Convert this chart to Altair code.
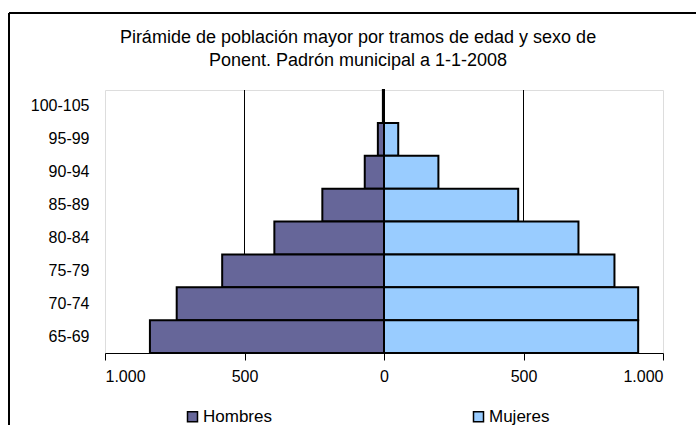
import altair as alt
import pandas as pd

# Age bands, top to bottom of the pyramid
tramos = ["100-105", "95-99", "90-94", "85-89", "80-84", "75-79", "70-74", "65-69"]
hombres = [4, 22, 69, 221, 393, 580, 743, 839]
mujeres = [0, 51, 195, 481, 697, 826, 911, 911]

titulo = [
    "Pirámide de población mayor por tramos de edad y sexo de",
    "Ponent. Padrón municipal a 1-1-2008",
]

rows = []
for t, h, m in zip(tramos, hombres, mujeres):
    rows.append({"tramo": t, "sexo": "Hombres", "valor": -h})
    rows.append({"tramo": t, "sexo": "Mujeres", "valor": m})
df = pd.DataFrame(rows)

grid_vals = pd.DataFrame({"v": [-500, 500]})
one = pd.DataFrame({"k": [0]})

FONT = "Liberation Sans"

x_scale = alt.Scale(domain=[-1000, 1000], nice=False)
y_enc = alt.Y(
    "tramo:N",
    sort=tramos,
    scale=alt.Scale(paddingInner=0, paddingOuter=0),
    axis=alt.Axis(
        title=None, ticks=False, domain=False, labelPadding=16,
        labelFontSize=16, labelColor="#000000", labelFont=FONT,
    ),
)

grid = alt.Chart(grid_vals).mark_rule(color="#000000", strokeWidth=1).encode(
    x=alt.X("v:Q", scale=x_scale)
)

bars = alt.Chart(df).mark_bar(stroke="#000000", strokeWidth=2).encode(
    x=alt.X(
        "valor:Q",
        scale=x_scale,
        axis=alt.Axis(
            title=None,
            values=[-1000, -500, 0, 500, 1000],
            labelExpr="replace(format(abs(datum.value), ','), ',', '.')",
            grid=False, tickColor="#000000", tickSize=7, tickWidth=1,
            domainColor="#000000", domainWidth=1,
            labelFontSize=16, labelColor="#000000", labelFont=FONT,
            labelPadding=8,
        ),
    ),
    y=y_enc,
    color=alt.Color(
        "sexo:N",
        scale=alt.Scale(domain=["Hombres", "Mujeres"], range=["#666699", "#99CCFF"]),
        legend=alt.Legend(
            title=None, orient="none", direction="horizontal",
            legendX=79, legendY=318, symbolType="square", symbolSize=100,
            symbolStrokeColor="#000000", symbolStrokeWidth=1.5,
            labelFontSize=17, labelFont=FONT, labelColor="#000000",
            columnPadding=198, labelOffset=2,
        ),
    ),
)

# Two-line chart title
title = alt.Chart(one).mark_text(
    font=FONT, fontSize=18, color="#000000", align="center",
    baseline="alphabetic", lineHeight=23, clip=False,
).encode(x=alt.value(253), y=alt.value(-47), text=alt.value(titulo))

# Outer chart frame (left and top edges)
frame_left = alt.Chart(one).mark_rule(color="#000000", strokeWidth=2, clip=False).encode(
    x=alt.value(-96), y=alt.value(-77), y2=alt.value(400)
)
frame_top = alt.Chart(one).mark_rule(color="#000000", strokeWidth=2, clip=False).encode(
    x=alt.value(-96), x2=alt.value(700), y=alt.value(-77)
)

chart = (
    alt.layer(frame_left, frame_top, title, grid, bars)
    .properties(
        width=558,
        height=263,
        autosize=alt.AutoSizeParams(type="none"),
        padding={"left": 105, "top": 90, "right": 33, "bottom": 72},
    )
    .configure_view(stroke="#999999", strokeWidth=2)
    .configure(background="#ffffff")
)

chart.save("out.html", embed_options={"renderer": "svg", "actions": False})
